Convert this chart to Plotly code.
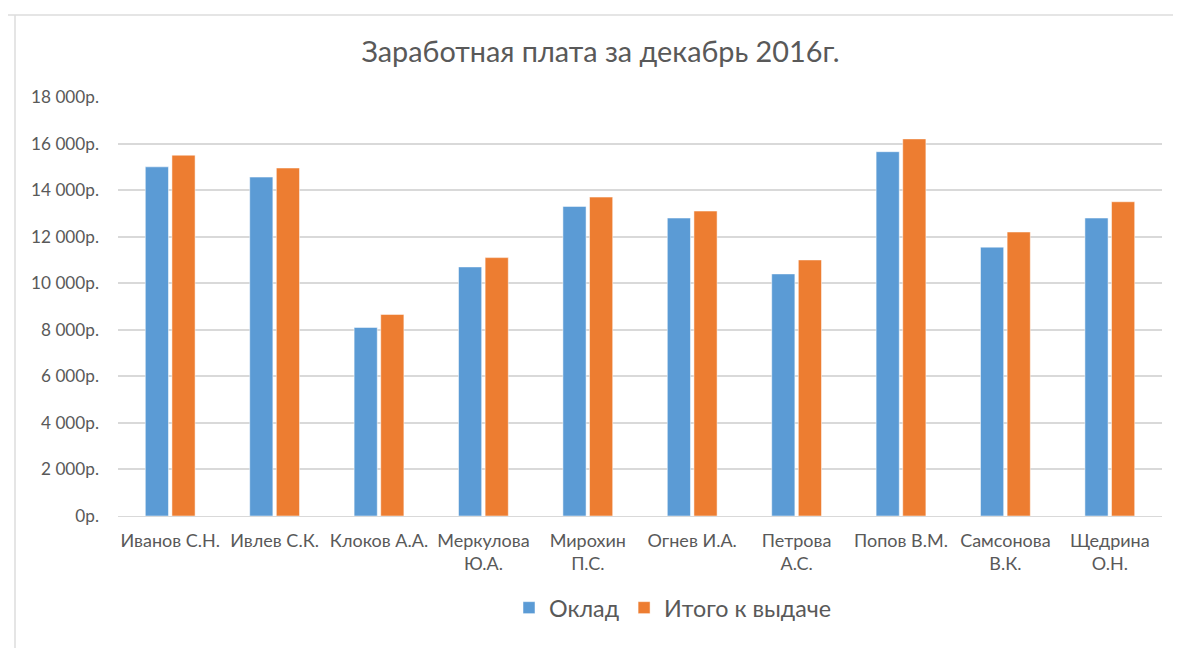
import plotly.graph_objects as go

categories = ["Иванов С.Н.", "Ивлев С.К.", "Клоков А.А.", "Меркулова<br>Ю.А.", "Мирохин<br>П.С.",
              "Огнев И.А.", "Петрова<br>А.С.", "Попов В.М.", "Самсонова<br>В.К.", "Щедрина<br>О.Н."]
oklad = [15000, 14560, 8100, 10700, 13300, 12800, 10400, 15650, 11550, 12800]
itogo = [15500, 14950, 8660, 11100, 13700, 13100, 11000, 16200, 12200, 13500]
series_names = ["Оклад", "Итого к выдаче"]
y_tickvals = [0, 2000, 4000, 6000, 8000, 10000, 12000, 14000, 16000, 18000]
y_ticktext = ["0р.", "2 000р.", "4 000р.", "6 000р.", "8 000р.", "10 000р.",
              "12 000р.", "14 000р.", "16 000р.", "18 000р."]
title_text = "Заработная плата за декабрь 2016г."

BLUE = "#5B9BD5"
ORANGE = "#ED7D31"
GREY_TXT = "#595959"
GRID = "#D9D9D9"
FONT = "Lato"

OFF = 8  # page body margin
W, H = 1181 - OFF, 648 - OFF
L, R, T, B = 118 - OFF, 19, 97 - OFF, 132

fig = go.Figure()
fig.add_trace(go.Bar(x=categories, y=oklad, name=series_names[0],
                     marker=dict(color=BLUE, line=dict(color="white", width=0.5))))
fig.add_trace(go.Bar(x=categories, y=itogo, name=series_names[1],
                     marker=dict(color=ORANGE, line=dict(color="white", width=0.5))))

pw = W - L - R
ph = H - T - B
def px_x(x):  # page pixel -> paper
    return (x - OFF - L) / pw
def px_y(y):
    return 1 - (y - OFF - T) / ph

# chart-area border (top and left)
fig.add_shape(type="line", xref="paper", yref="paper", x0=px_x(8), x1=px_x(1181),
              y0=px_y(15), y1=px_y(15), line=dict(color="#DCDCDC", width=1.5))
fig.add_shape(type="line", xref="paper", yref="paper", x0=px_x(15), x1=px_x(15),
              y0=px_y(15), y1=px_y(648), line=dict(color="#DCDCDC", width=1.5))

fig.update_layout(
    width=W, height=H,
    margin=dict(l=L, r=R, t=T, b=B),
    paper_bgcolor="white", plot_bgcolor="white",
    barmode="group", bargap=0.49, bargroupgap=0.13,
    font=dict(family=FONT, color=GREY_TXT),
    title=dict(text=title_text, x=(600.5 - OFF) / W, xref="container", xanchor="center",
               y=1 - (52 - OFF) / H, yanchor="middle",
               font=dict(family=FONT, size=28.8, color=GREY_TXT)),
    legend=dict(orientation="h", x=px_x(509), xanchor="left", y=px_y(608), yanchor="middle",
                font=dict(family=FONT, size=23.3, color=GREY_TXT), itemwidth=30,
                traceorder="normal"),
    xaxis=dict(showgrid=False, showline=True, linecolor=GRID, linewidth=1,
               ticks="", ticklabelstandoff=8,
               tickfont=dict(family=FONT, size=18, color=GREY_TXT)),
    yaxis=dict(range=[0, 18000], tickvals=y_tickvals, ticktext=y_ticktext,
               showgrid=True, gridcolor=GRID, gridwidth=1.5, zeroline=False,
               showline=False, ticks="", ticklabelstandoff=18,
               tickfont=dict(family=FONT, size=17.2, color=GREY_TXT)),
)

fig.write_html("out.html")
